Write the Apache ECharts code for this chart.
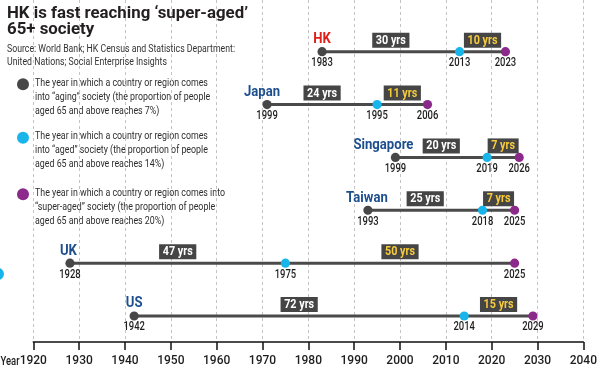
<!DOCTYPE html>
<html>
<head>
<meta charset="utf-8">
<script src="https://cdn.jsdelivr.net/npm/echarts@6/dist/echarts.min.js"></script>
<style>
html,body{margin:0;padding:0;background:#fff;}
#chart{width:600px;height:374px;}
</style>
</head>
<body>
<div id="chart"></div>
<script>
// ---- data ----
const countries = ['HK', 'Japan', 'Singapore', 'Taiwan', 'UK', 'US'];
const agingYear = [1983, 1971, 1999, 1993, 1928, 1942];          // reaches 7%
const agingLabel = ['1983', '1999', '1999', '1993', '1928', '1942']; // as printed
const agedYear = [2013, 1995, 2019, 2018, 1975, 2014];           // reaches 14%
const superAgedYear = [2023, 2006, 2026, 2025, 2025, 2029];      // reaches 20%
const agingToAged = ['30 yrs', '24 yrs', '20 yrs', '25 yrs', '47 yrs', '72 yrs'];
const agedToSuper = ['10 yrs', '11 yrs', '7 yrs', '7 yrs', '50 yrs', '15 yrs'];
const yearMin = 1920, yearMax = 2040, yearStep = 10;
const titleLines = 'HK is fast reaching \u2018super-aged\u2019\n65+ society';
const sourceLines = 'Source: World Bank; HK Census and Statistics Department:\nUnited Nations; Social Enterprise Insights';
const legendTexts = [
  'The year in which a country or region comes\ninto \u201Caging\u201D society (the proportion of people\naged 65 and above reaches 7%)',
  'The year in which a country or region comes\ninto \u201Caged\u201D society (the proportion of people\naged 65 and above reaches 14%)',
  'The year in which a country or region comes into\n\u201Csuper-aged\u201D society (the proportion of people\naged 65 and above reaches 20%)'
];

// ---- styles ----
const FF = "Roboto";
const C_GRAY = '#474747', C_CYAN = '#18b5ea', C_PURPLE = '#8c2a8c';
const C_BLUE = '#1d4f8f', C_RED = '#e0201b';
const F_TITLE = "bold 17px " + FF, F_SRC = "11px " + FF, F_LEG = "11px " + FF;
const F_COUNTRY = "bold 14px " + FF, F_YEAR = "500 12px " + FF, F_BOX = "bold 12px " + FF;
// small horizontal nudges of the country name relative to its first dot (px)
const nameNudge = { Japan: -5, Singapore: -12, Taiwan: -1, UK: -1.5 };

// horizontal condensing factors (reference uses a condensed face)
const mctx = document.createElement('canvas').getContext('2d');
function fit(font, text, target) { mctx.font = font; return target / mctx.measureText(text).width; }
const S_TITLE = fit(F_TITLE, 'HK is fast reaching \u2018super-aged\u2019', 241);
const S_SRC = fit(F_SRC, 'Source: World Bank; HK Census and Statistics Department:', 228);
const S_LEG = fit(F_LEG, 'The year in which a country or region comes into', 190);
const S_COUNTRY = fit(F_COUNTRY, 'Singapore', 60);
const S_YEAR = fit(F_YEAR, '1983', 21.5);
const S_BOX = fit(F_BOX, '30 yrs', 30);

const rows = countries.map((c, i) => [i, agingYear[i], agedYear[i], superAgedYear[i]]);

function renderItem(params, api) {
  const i = api.value(0);
  const p0 = api.coord([api.value(1), i]);
  const p1 = api.coord([api.value(2), i]);
  const p2 = api.coord([api.value(3), i]);
  const y = p0[1];
  const box = (txt, fill, x) => ({
    type: 'text', x: x, y: y - 4, scaleX: S_BOX,
    style: {
      text: txt, fill: fill, font: F_BOX,
      align: 'center', verticalAlign: 'bottom',
      backgroundColor: '#454545', padding: [2, 4, 1, 4]
    }
  });
  const dot = (p, col) => ({ type: 'circle', shape: { cx: p[0], cy: p[1], r: 4.6 }, style: { fill: col } });
  const yr = (p, txt) => ({
    type: 'text', x: p[0], y: y + 11.5, scaleX: S_YEAR,
    style: { text: txt, fill: '#1e1e1e', font: F_YEAR, align: 'center', verticalAlign: 'middle' }
  });
  return {
    type: 'group',
    children: [
      { type: 'line', shape: { x1: p0[0], y1: y, x2: p2[0], y2: y }, style: { stroke: '#4a4a4a', lineWidth: 3 } },
      box(agingToAged[i], '#ffffff', (p0[0] + p1[0]) / 2),
      box(agedToSuper[i], '#f7cb3b', (p1[0] + p2[0]) / 2),
      dot(p0, C_GRAY), dot(p1, C_CYAN), dot(p2, C_PURPLE),
      yr(p0, agingLabel[i]), yr(p1, String(agedYear[i])), yr(p2, String(superAgedYear[i])),
      {
        type: 'text', x: p0[0] + (nameNudge[countries[i]] || 0), y: y - 12, scaleX: S_COUNTRY,
        style: {
          text: countries[i], fill: i === 0 ? C_RED : C_BLUE, font: F_COUNTRY,
          align: 'center', verticalAlign: 'middle'
        }
      }
    ]
  };
}

const legendGraphics = [];
const legendColors = [C_GRAY, C_CYAN, C_PURPLE];
const legendTop = [83.3, 136.7, 193.3];
legendTexts.forEach((t, k) => {
  legendGraphics.push({ type: 'circle', shape: { cx: 23, cy: legendTop[k] + 1, r: 6 }, style: { fill: legendColors[k] } });
  legendGraphics.push({
    type: 'text', x: 35, y: legendTop[k] - 7, scaleX: S_LEG,
    style: { text: t, fill: '#2e2e2e', font: F_LEG, lineHeight: 14, verticalAlign: 'top' }
  });
});

const chart = echarts.init(document.getElementById('chart'), null, { renderer: 'canvas' });
chart.setOption({
  animation: false,
  grid: { left: 33.3, right: 12.3, top: 0, bottom: 32, containLabel: false },
  xAxis: {
    type: 'value', min: yearMin, max: yearMax, interval: yearStep,
    axisLine: { onZero: false, lineStyle: { color: '#111', width: 1.5 } },
    axisTick: { show: true, length: 8, lineStyle: { color: '#111', width: 1.5 } },
    axisLabel: { color: '#1e1e1e', fontFamily: FF, fontWeight: 500, fontSize: 12, margin: 13, formatter: v => String(v) },
    splitLine: { show: true, lineStyle: { color: '#c4c4c4', type: [3, 3], width: 1 } }
  },
  yAxis: {
    type: 'value', inverse: true, min: -0.978, max: 5.492, show: false,
    splitLine: { show: false }
  },
  series: [{
    type: 'custom', renderItem: renderItem, data: rows,
    encode: { x: [1, 2, 3], y: 0 }, clip: false, z: 5
  }],
  graphic: [
    { type: 'text', x: 7, y: 5, scaleX: S_TITLE, z: 10,
      style: { text: titleLines, fill: '#231f20', font: F_TITLE, lineHeight: 16.5, verticalAlign: 'top' } },
    { type: 'text', x: 7, y: 43, scaleX: S_SRC, z: 10,
      style: { text: sourceLines, fill: '#333', font: F_SRC, lineHeight: 12.5, verticalAlign: 'top' } },
    { type: 'text', x: 0.5, y: 361.5, scaleX: S_YEAR, z: 10,
      style: { text: 'Year', fill: '#1e1e1e', font: F_YEAR, verticalAlign: 'middle' } },
    { type: 'circle', shape: { cx: -2, cy: 274, r: 6 }, style: { fill: C_CYAN } },
    ...legendGraphics
  ]
});
</script>
</body>
</html>
